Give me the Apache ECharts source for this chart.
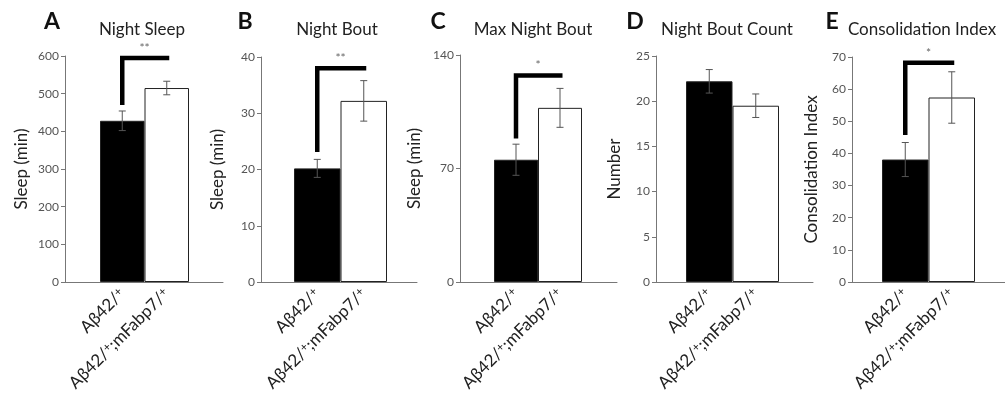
<!DOCTYPE html>
<html>
<head>
<meta charset="utf-8">
<script src="https://cdn.jsdelivr.net/npm/echarts@6/dist/echarts.min.js"></script>
<style>
  html, body { margin: 0; padding: 0; background: #fff; }
  #main { width: 1005px; height: 403px; }
</style>
</head>
<body>
<div id="main"></div>
<script>
// data
const groups = ['Aβ42/+', 'Aβ42/+;mFabp7/+'];
const panelLetters = ['A', 'B', 'C', 'D', 'E'];
const panelTitles = ['Night Sleep', 'Night Bout', 'Max Night Bout', 'Night Bout Count', 'Consolidation Index'];
const yNames = ['Sleep (min)', 'Sleep (min)', 'Sleep (min)', 'Number', 'Consolidation Index'];
const yMax = [600, 40, 140, 25, 70];
const yInterval = [100, 10, 70, 5, 10];
const meanValues = [[428, 515], [20.2, 32.2], [75.4, 107.4], [22.2, 19.5], [38.1, 57.4]];
const errValues = [[26, 18], [1.6, 3.6], [9.6, 12], [1.3, 1.3], [5.3, 8]];
const sigLabels = ['**', '**', '*', '', '*'];
const sigBase = [470, 23.1, 88.5, null, 45.7];
const sigTop = [595, 38, 127.3, null, 68.2];

// layout (px)
const axisLeft = [65, 261, 460, 656, 852];
const axisRight = [223, 417, 617, 813, 1005];
const barLeft = [100, 294, 494, 686, 882];
const barRight = [189, 387, 582, 779, 975];
const gridTop = [56, 57, 55, 56, 57];
const gridBottom = 121;
const nameGaps = [35, 35, 37, 33, 32];
const letterX = [52, 245, 438, 635, 832];
const titleX = [142, 337, 533, 727, 922];

const FONT = 'Lato, "Open Sans", sans-serif';
const barColors = ['#000', '#fff'];

const chart = echarts.init(document.getElementById('main'), null, { renderer: 'canvas' });

let grid = [], xAxis = [], yAxis = [], series = [], title = [];

for (let i = 0; i < 5; i++) {
  // outer grid: y axis + long x axis line
  grid.push({ left: axisLeft[i], width: axisRight[i] - axisLeft[i], top: gridTop[i], bottom: gridBottom });
  // inner grid: bars + labels
  grid.push({ left: barLeft[i], width: barRight[i] - barLeft[i], top: gridTop[i], bottom: gridBottom });

  xAxis.push({
    type: 'category', gridIndex: 2 * i, data: ['', ''],
    axisLine: { show: true, lineStyle: { color: '#777', width: 1 } },
    axisTick: { show: false }, axisLabel: { show: false }
  });
  xAxis.push({
    type: 'category', gridIndex: 2 * i + 1, data: groups,
    axisLine: { show: false }, axisTick: { show: false },
    axisLabel: {
      rotate: 45, margin: 9, interval: 0,
      fontFamily: FONT, fontSize: 17, color: '#222',
      formatter: v => v.replace(/\+/g, '{sup|+}'),
      rich: { sup: { fontSize: 12, verticalAlign: 'top', fontFamily: FONT, color: '#222' } }
    }
  });

  yAxis.push({
    type: 'value', gridIndex: 2 * i, min: 0, max: yMax[i], interval: yInterval[i],
    name: yNames[i], nameLocation: 'middle', nameGap: nameGaps[i],
    nameTextStyle: { fontFamily: FONT, fontSize: 17, color: '#222' },
    axisLine: { show: true, lineStyle: { color: '#777' } },
    axisTick: { show: true, length: 4, lineStyle: { color: '#777' } },
    axisLabel: { fontFamily: FONT, fontSize: 12, color: '#555', margin: 6 },
    splitLine: { show: false }
  });
  yAxis.push({
    type: 'value', gridIndex: 2 * i + 1, min: 0, max: yMax[i], interval: yInterval[i], show: false
  });

  series.push({
    type: 'bar', xAxisIndex: 2 * i + 1, yAxisIndex: 2 * i + 1,
    barWidth: '100%', silent: true,
    data: meanValues[i].map((v, k) => ({
      value: v,
      itemStyle: { color: barColors[k], borderColor: '#222', borderWidth: 1 }
    }))
  });

  // error bars
  series.push({
    type: 'custom', xAxisIndex: 2 * i + 1, yAxisIndex: 2 * i + 1, silent: true, z: 5,
    data: meanValues[i].map((v, k) => [k, v - errValues[i][k], v + errValues[i][k]]),
    renderItem: (params, api) => {
      const lo = api.coord([api.value(0), api.value(1)]);
      const hi = api.coord([api.value(0), api.value(2)]);
      const cap = 3.5;
      const st = { stroke: '#555', lineWidth: 1 };
      return {
        type: 'group', children: [
          { type: 'line', shape: { x1: lo[0], y1: lo[1], x2: hi[0], y2: hi[1] }, style: st },
          { type: 'line', shape: { x1: lo[0] - cap, y1: lo[1], x2: lo[0] + cap, y2: lo[1] }, style: st },
          { type: 'line', shape: { x1: hi[0] - cap, y1: hi[1], x2: hi[0] + cap, y2: hi[1] }, style: st }
        ]
      };
    }
  });

  // significance bracket
  if (sigBase[i] !== null) {
    series.push({
      type: 'custom', xAxisIndex: 2 * i + 1, yAxisIndex: 2 * i + 1, silent: true, z: 6,
      data: [[0, 1, sigBase[i], sigTop[i]]],
      renderItem: (params, api) => {
        const p0 = api.coord([api.value(0), api.value(2)]);
        const p1 = api.coord([api.value(0), api.value(3)]);
        const p2 = api.coord([api.value(1), api.value(3)]);
        return {
          type: 'group', children: [
            {
              type: 'polyline',
              shape: { points: [p0, p1, [p2[0] + 2.5, p2[1]]] },
              style: { stroke: '#000', lineWidth: 4.5, fill: null, lineJoin: 'miter', lineCap: 'butt' }
            },
            {
              type: 'text',
              style: {
                text: sigLabels[i], x: (p1[0] + p2[0]) / 2, y: p1[1] - 4,
                align: 'center', verticalAlign: 'bottom',
                fill: '#666', fontSize: 12, fontFamily: FONT
              }
            }
          ]
        };
      }
    });
  }

  title.push({
    text: panelLetters[i], left: letterX[i], top: 10, textAlign: 'center', padding: 0,
    textStyle: { fontFamily: FONT, fontSize: 23, fontWeight: 'bold', color: '#111' }
  });
  title.push({
    text: panelTitles[i], left: titleX[i], top: 21, textAlign: 'center', padding: 0,
    textStyle: { fontFamily: FONT, fontSize: 17, fontWeight: 'normal', color: '#222' }
  });
}

chart.setOption({
  animation: false,
  backgroundColor: '#fff',
  title: title,
  grid: grid,
  xAxis: xAxis,
  yAxis: yAxis,
  series: series
});
</script>
</body>
</html>
